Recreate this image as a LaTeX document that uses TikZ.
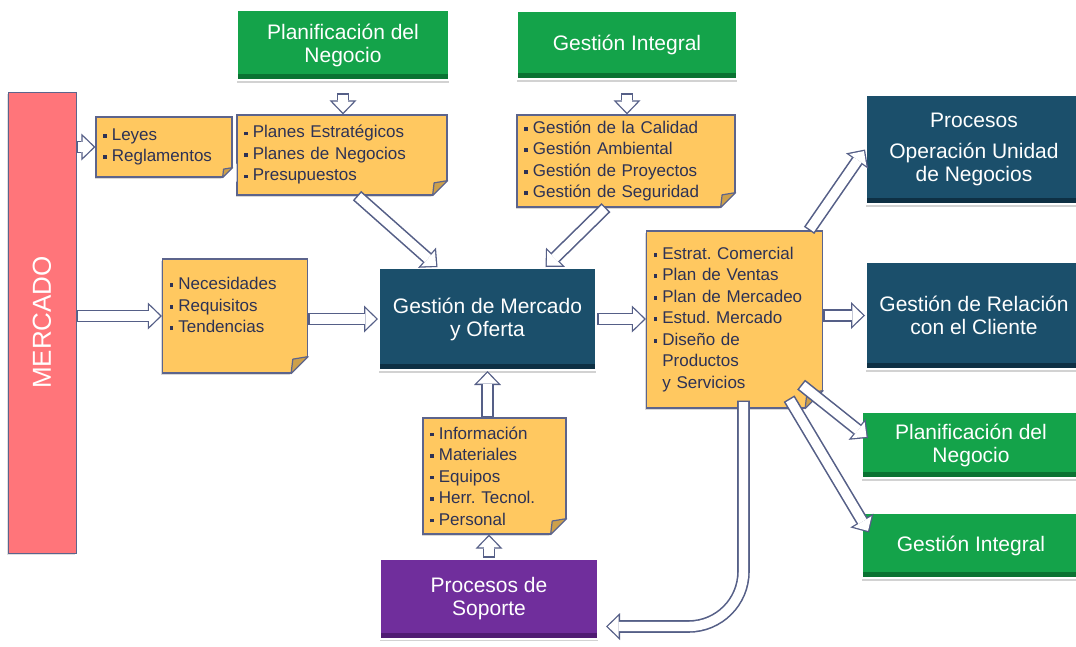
\documentclass[tikz,border=0pt]{standalone}
\usepackage{fontspec}
\setmainfont{Liberation Sans}
\usetikzlibrary{arrows.meta,shadows}

\definecolor{notefill}{RGB}{255,200,96}
\definecolor{noteedge}{RGB}{92,100,140}
\definecolor{foldc}{RGB}{205,160,75}
\definecolor{notetext}{RGB}{45,50,85}
\definecolor{arrowedge}{RGB}{85,95,135}
\definecolor{navy}{RGB}{27,79,107}
\definecolor{navydark}{RGB}{14,48,68}
\definecolor{leaf}{RGB}{20,163,74}
\definecolor{leafdark}{RGB}{10,115,50}
\definecolor{soporteviolet}{RGB}{112,46,156}
\definecolor{soportedark}{RGB}{80,28,115}
\definecolor{mercadored}{RGB}{255,117,122}

\newcommand\listfont{\fontsize{17}{21.5}\selectfont}
\newcommand\titlefont{\fontsize{21}{23}\selectfont}
\newcommand\itm{\rule[.16em]{.22em}{.22em}\hspace{.3em}}
\newcommand\itmgap{\hspace{.52em}}

\tikzset{
  note/.style={draw=noteedge, line width=1.2pt, fill=notefill, text=notetext,
    font=\listfont, align=left, inner xsep=7pt, inner ysep=3pt,
    drop shadow={shadow xshift=-1.5pt, shadow yshift=-2pt, opacity=.3}},
  pics/fold/.style={code={
    \fill[white] (4pt,#1+4pt) -- (4pt,-4pt) -- (-#1-4pt,-4pt) -- cycle;
    \filldraw[draw=noteedge, fill=foldc, line width=1.2pt, line join=round]
      (0pt,#1) -- (-#1,0pt) -- (-0.9*#1,0.85*#1) -- cycle;}},
  strip/.style={path picture={\fill[#1] (path picture bounding box.south west)
    rectangle ([yshift=6pt]path picture bounding box.south east);}},
  box/.style={text=white, font=\titlefont, align=center, draw=white,
    line width=2pt, inner sep=2pt,
    drop shadow={shadow xshift=0pt, shadow yshift=-2.5pt, opacity=.35}},
  navybox/.style={box, fill=navy, strip=navydark},
  leafbox/.style={box, fill=leaf, strip=leafdark},
  violetbox/.style={box, fill=soporteviolet, strip=soportedark},
  mercadobox/.style={draw=noteedge, line width=1pt, fill=mercadored,
    drop shadow={shadow xshift=-1pt, shadow yshift=-1.5pt, opacity=.25}},
  barrow/.style={draw=white, line width=9.4pt, shorten >=1.9pt, shorten <=1.5pt,
    -{Triangle[length=10.8pt, width=20.9pt, line width=0pt]},
    preaction={draw=arrowedge, line width=12.6pt, shorten >=0pt, shorten <=0pt,
      -{Triangle[length=14pt, width=27pt, line width=0pt]}}}
}

\begin{document}
\frenchspacing
\begin{tikzpicture}[x=1pt, y=-1pt]
  \path[use as bounding box, fill=white] (0,0) rectangle (1076,646);
  \clip (0,0) rectangle (1076,646);

  % market column
  \node[mercadobox, minimum width=68pt, minimum height=461pt] (mercado) at (42,322.5) {};
  \node[rotate=90, text=white, font=\fontsize{26}{30}\selectfont] (mercadotxt) at (mercado) {MERCADO};

  % notes
  \node[note, text width=122pt, minimum height=60pt] (leyes) at (164,147)
    {\itm Leyes\\\itm Reglamentos};
  \node[note, text width=196pt, minimum height=80pt] (planes) at (342,155)
    {\itm Planes Estratégicos\\\itm Planes de Negocios\\\itm Presupuestos};
  \node[note, text width=204pt, minimum height=92pt] (gestn) at (626,161)
    {\itm Gestión de la Calidad\\\itm Gestión Ambiental\\\itm Gestión de Proyectos\\\itm Gestión de Seguridad};
  \node[note, text width=131pt, minimum height=114pt] (necesid) at (235,316)
    {\itm Necesidades\\\itm Requisitos\\\itm Tendencias\\\mbox{}};
  \node[note, text width=162pt, minimum height=177pt] (estrat) at (734.5,319.5)
    {\itm Estrat. Comercial\\\itm Plan de Ventas\\\itm Plan de Mercadeo\\\itm Estud. Mercado\\\itm Diseño de\\\itmgap Productos\\\itmgap y Servicios};
  \node[note, text width=129pt, minimum height=116pt] (info) at (494.5,476)
    {\itm Información\\\itm Materiales\\\itm Equipos\\\itm Herr. Tecnol.\\\itm Personal};

  % folded corners
  \foreach \n/\s in {leyes/10pt, planes/15pt, gestn/15pt, necesid/17pt, estrat/18pt, info/16pt}
    \pic at (\n.south east) {fold=\s};

  % process boxes
  \node[leafbox, minimum width=212pt, minimum height=70pt] (planif) at (343,45) {Planificación del\\Negocio};
  \node[leafbox, minimum width=220pt, minimum height=68pt] (gint) at (627,45) {Gestión Integral};
  \node[navybox, minimum width=217pt, minimum height=102pt] (mo) at (487.5,319) {Gestión de Mercado\\y Oferta};
  \node[violetbox, minimum width=218pt, minimum height=80pt] (sop) at (489,598.5) {Procesos de\\Soporte};
  \node[navybox, minimum width=216pt, minimum height=109pt] (proc) at (974,149.5) {Procesos\\[8pt]Operación Unidad\\de Negocios};
  \node[navybox, minimum width=216pt, minimum height=107pt] (rel) at (974,315.5) {Gestión de Relación\\con el Cliente};
  \node[leafbox, minimum width=218pt, minimum height=66pt] (rplan) at (971,445) {Planificación del\\Negocio};
  \node[leafbox, minimum width=218pt, minimum height=65pt] (rgint) at (971,545.5) {Gestión Integral};

  % arrows
  \draw[barrow] (mercado.east |- leyes.west) -- (leyes.west);
  \draw[barrow] (mercado.east |- necesid.west) -- (necesid.west);
  \draw[barrow] (necesid.east |- mo.west) -- (mo.west);
  \draw[barrow] (mo.east) -- (estrat.west |- mo.east);
  \draw[barrow] (estrat.east |- rel.west) -- (rel.west);
  \draw[barrow] ([yshift=-12pt]planif.south) -- (planes.north -| planif.south);
  \draw[barrow] ([yshift=-13pt]gint.south) -- (gestn.north -| gint.south);
  \draw[barrow] ([xshift=15pt]planes.south) -- ([xshift=-50pt]mo.north);
  \draw[barrow] ([xshift=-20pt]gestn.south) -- ([xshift=58pt]mo.north);
  \draw[barrow] (info.north -| mo.south) -- (mo.south);
  \draw[barrow] (sop.north) -- (info.south -| sop.north);
  \draw[barrow] ([xshift=-14pt]estrat.north east) -- (proc.west);
  \draw[barrow] ([xshift=-34pt,yshift=10pt]estrat.south east) -- ([xshift=8pt,yshift=13pt]rgint.west);
  \draw[barrow] ([xshift=-22pt,yshift=24pt]estrat.south east) -- ([xshift=7pt,yshift=7pt]rplan.west);
  \draw[barrow, rounded corners=55pt] ([xshift=9pt,yshift=8pt]estrat.south) |- ([xshift=7pt,yshift=-28pt]sop.east);
\end{tikzpicture}
\end{document}
